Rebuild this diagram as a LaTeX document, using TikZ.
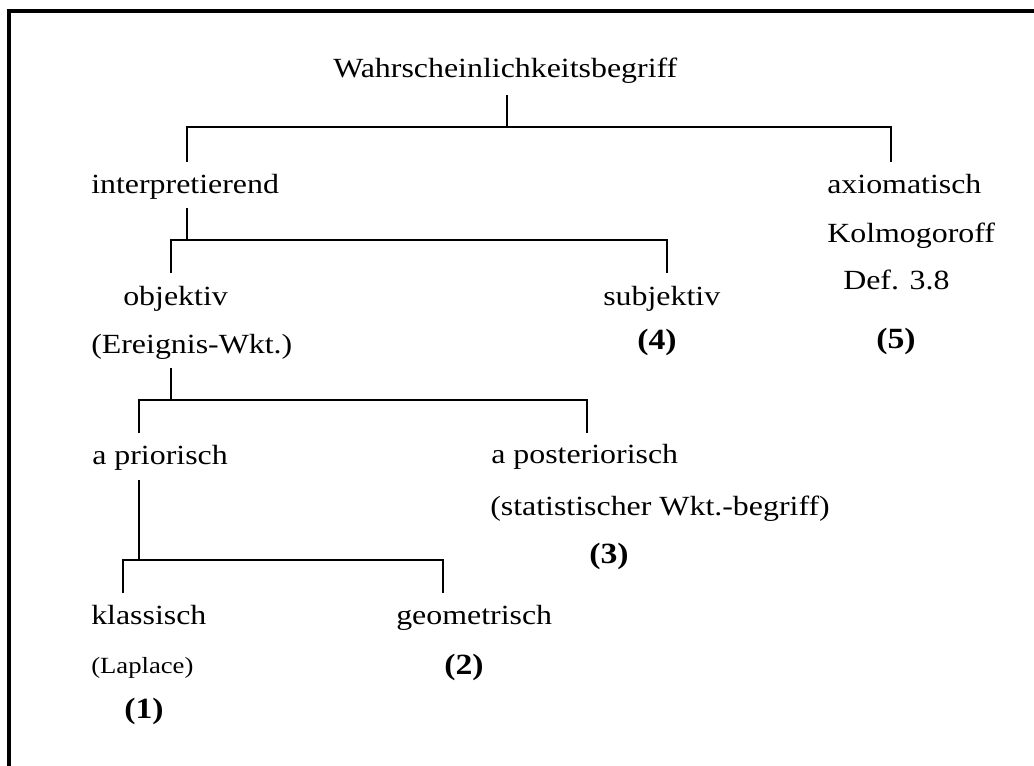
\documentclass[tikz,border=0pt]{standalone}
\usepackage{fontspec}
\setmainfont{Liberation Serif}[FakeStretch=1.15]
\begin{document}
\begin{tikzpicture}
[x=0.75pt,y=-0.75pt,
  termdecorate/.style={anchor=base west,inner sep=0pt,font=\fontsize{20.8}{25}\selectfont},
  smalldecorate/.style={termdecorate,font=\fontsize{17.4}{21}\selectfont},
  numdecorate/.style={anchor=base,inner sep=0pt,font=\fontsize{22}{26}\selectfont\bfseries},
  linedecorate/.style={line width=2pt}]
\useasboundingbox (0,0) rectangle (1034,765);
%% frame
\draw[line width=2.4pt] (9,11) rectangle (1060,800);
%% terms
\foreach \nodename/\x/\y/\txt in {wkt/333/77/Wahrscheinlichkeitsbegriff,
  intp/91/193/interpretierend, axio/827/193/axiomatisch,
  kolm/827/242/Kolmogoroff, def/843/289/{Def. 3.8},
  obj/123/305/objektiv, subj/603/305/subjektiv,
  ereig/91/353/{(Ereignis-Wkt.)}, prio/92/464/{a priorisch},
  post/491/463/{a posteriorisch}, stat/490/515/{(statistischer Wkt.-begriff)},
  klass/91/624/klassisch, geom/396/624/geometrisch} {
  \node (\nodename) at (\x,\y) [termdecorate] {\txt};
}
\node (lapl) at (91,673) [smalldecorate] {(Laplace)};
%% numbers
\foreach \nodename/\x/\y in {1/144/718, 2/464/674, 3/609/563, 4/657/349, 5/896/348} {
  \node (n\nodename) at (\x,\y) [numdecorate] {(\nodename)};
}
%% branch points
\foreach \name/\x/\y in {wkt-top/507/95, wkt-bar/507/127,
  intp-in/187/162, axio-in/891/162,
  intp-top/187/208, intp-bar/187/240, obj-in/171/273, subj-in/667/273,
  ereig-top/171/368, ereig-bar/171/400, prio-in/139/433, post-in/587/433,
  prio-top/139/480, prio-bar/139/560, klass-in/123/593, geom-in/443/593} {
  \coordinate (\name) at (\x,\y);
}
%% brackets
\foreach \startnode/\leftnode/\rightnode in {wkt/intp/axio, intp/obj/subj,
  ereig/prio/post, prio/klass/geom} {
  \draw[linedecorate] (\startnode-top) -- (\startnode-bar);
  \draw[linedecorate] (\leftnode-in) |- (\startnode-bar) -| (\rightnode-in);
}
\end{tikzpicture}
\end{document}
